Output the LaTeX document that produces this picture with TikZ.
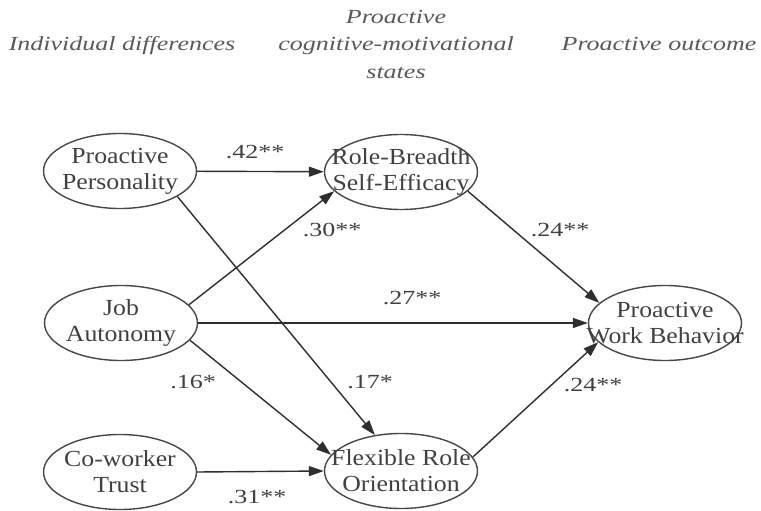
\documentclass[tikz,border=0pt]{standalone}
\usepackage{fontspec}
\setmainfont[FakeStretch=1.3]{Liberation Serif}
\newfontfamily\nodefont[FakeStretch=1.12]{Liberation Serif}
\usetikzlibrary{arrows.meta,shapes.geometric}
\begin{document}
\begin{tikzpicture}[x=1pt,y=-1pt,
  var/.style={ellipse, draw=black!72, line width=1.4pt, minimum width=153pt, minimum height=75pt, inner sep=0pt,
    label={[align=center, font=\nodefont\fontsize{23}{26}\selectfont, text=black!75, inner sep=0pt]center:#1}},
  pth/.style={draw=black!82, line width=1.4pt, -{Triangle[length=15pt,width=10pt]}},
  coef/.style={font=\fontsize{20}{24}\selectfont, text=black!75, inner sep=0pt},
  head/.style={font=\itshape\fontsize{20}{27}\selectfont, text=black!65, anchor=base, inner sep=0pt}]
\useasboundingbox (0,0) rectangle (761,511);
% headers
\node[head] (h1) at (122,51) {Individual differences};
\node[head] (h2a) at (396,24) {Proactive};
\node[head] (h2b) at (396,51) {cognitive-motivational};
\node[head] (h2c) at (396,78) {states};
\node[head] (h3) at (659,51) {Proactive outcome};
% variables
\node[var={Proactive\\Personality}] (pp) at (120,171) {};
\node[var={Job\\Autonomy}] (ja) at (121,323) {};
\node[var={Co-worker\\Trust}] (ct) at (120,472) {};
\node[var={Role-Breadth\\Self-Efficacy}] (rb) at (401,172) {};
\node[var={Flexible Role\\Orientation}] (fr) at (401,471) {};
\node[var={Proactive\\Work Behavior}] (pw) at (665,323) {};
% paths
\draw[pth] (pp) -- (rb);
\draw[pth] (pp.-24.5) -- (fr.126);
\draw[pth] (ja.15) -- (rb.196);
\draw[pth] (ja) -- (pw);
\draw[pth] (ja.-14.5) -- (fr.167.6);
\draw[pth] (ct.east) -- (fr.west);
\draw[pth] (rb.-16.9) -- (pw.163.6);
\draw[pth] (fr.11.8) -- (pw.196.4);
% coefficients
\node[coef] (c1) at (255,152) {.42**};
\node[coef] (c2) at (332,230) {.30**};
\node[coef] (c3) at (560,230) {.24**};
\node[coef] (c4) at (412,298) {.27**};
\node[coef] (c5) at (193,382) {.16*};
\node[coef] (c6) at (370,382) {.17*};
\node[coef] (c7) at (593,385) {.24**};
\node[coef] (c8) at (257,497) {.31**};
\end{tikzpicture}
\end{document}
